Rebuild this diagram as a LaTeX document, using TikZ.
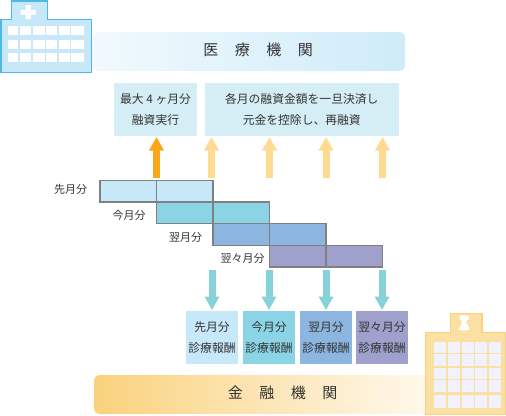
\documentclass[tikz,border=0pt]{standalone}
\usepackage{fontspec}
\setmainfont{Noto Sans CJK JP}
\usepackage{tikz}
\usetikzlibrary{arrows.meta,positioning,shadings}

\definecolor{skyc}{HTML}{C6E8F8}
\definecolor{tealc}{HTML}{8BD4E6}
\definecolor{bluec}{HTML}{8CB6E0}
\definecolor{violetc}{HTML}{A0A0CD}
\definecolor{palec}{HTML}{D5EDF4}
\definecolor{hospc}{HTML}{4FB8E8}
\definecolor{bankc}{HTML}{FAD27E}
\definecolor{bankfill}{HTML}{FBE0A4}
\definecolor{textc}{HTML}{333333}
\definecolor{orangec}{HTML}{FAA61A}
\definecolor{lightc}{HTML}{FEDB90}
\definecolor{downc}{HTML}{86D2D8}
\newcommand{\wsp}{\hspace{16.5pt}}

\begin{document}
\begin{tikzpicture}[x=1pt, y=-1pt,
  every node/.style={text=textc, font=\fontsize{11.8}{21}\selectfont, inner sep=0pt, outer sep=0pt},
  banner/.style={rounded corners=6pt, minimum height=39pt},
  title/.style={font=\fontsize{15}{18}\selectfont},
  note/.style={fill=palec, align=center, minimum height=53pt},
  cell/.style={draw=gray, line width=1.3pt, minimum width=56.5pt, minimum height=21.7pt},
  month/.style={font=\fontsize{11}{14}\selectfont},
  pay/.style={align=center, minimum width=52pt, minimum height=53pt},
  up/.style={-{Triangle[length=13.5pt, width=14pt]}, line width=7pt, shorten <=2pt, shorten >=1pt},
  down/.style={-{Triangle[length=13.5pt, width=14pt]}, line width=7pt, draw=downc, shorten <=3pt, shorten >=1pt}
]
\useasboundingbox (0,0) rectangle (506,415);

% banners
\node[banner, left color=skyc!25!white, right color=skyc!85!white, minimum width=313pt] (clinic) at (248.5,51.5) {};
\node[title] at (258,49.5) {医\wsp 療\wsp 機\wsp 関};
\node[banner, left color=bankc, right color=bankc!12!white, minimum width=345pt] (lender) at (266.5,394.5) {};
\node[title] at (282.5,393) {金\wsp 融\wsp 機\wsp 関};

% hospital
\draw[hospc, fill=skyc, line width=1.5pt] (0.8,72.5) -- (0.8,19.5) -- (11.5,19.5) -- (11.5,0.8) -- (47.5,0.8) -- (47.5,19.5) -- (91.3,19.5) -- (91.3,72.5) -- cycle;
\fill[white] (20.5,10) rectangle (36,14.5) (25.7,5) rectangle (30.8,19);
\foreach \y/\h in {26/9,40/8.5,53/8.5}
  \foreach \x/\w in {8/10,20/11,33/11.5,46/11,59/11,71/13}
    \fill[white] (\x,\y) rectangle ++(\w,\h);

% bank
\draw[bankc, fill=bankfill, line width=1.2pt] (425.5,414.5) -- (425.5,332.5) -- (450.5,332.5) -- (450.5,313.5) -- (482,313.5) -- (482,332.5) -- (505.5,332.5) -- (505.5,414.5) -- cycle;
\foreach \y/\h in {342/11,354/12,368/11,380/12,395/13}
  \foreach \x in {434,448,462,475,489}
    \fill[white!95!blue] (\x,\y) rectangle ++(11.5,\h);
\fill[white] (459.5,316) .. controls (462,315) and (466,315) .. (469,316) .. controls (470,318) and (468,320) .. (466.5,321) .. controls (466,322.5) and (466,324) .. (467.5,325) .. controls (469,326) and (470,328) .. (469,330) .. controls (466,330.5) and (462,330.5) .. (459,330) .. controls (458.5,328) and (460,326) .. (461,325) .. controls (462,324) and (462,322.5) .. (461.5,321) .. controls (460,320) and (459,318) .. (459.5,316) -- cycle;

% notes
\node[note, minimum width=83pt] (advance) at (155.5,109.5) {最大 4 ヶ月分\\融資実行};
\node[note, minimum width=194.5pt] (refund) at (301.75,109.5) {各月の融資金額を一旦決済し\\元金を控除し、再融資};

% months
\node[cell, fill=skyc] (m1a) at (128.25,191) {};
\node[cell, fill=skyc, right=0pt of m1a] (m1b) {};
\node[cell, fill=tealc, below right=0pt and 0pt of m1a.south east] (m2a) {};
\node[cell, fill=tealc, right=0pt of m2a] (m2b) {};
\node[cell, fill=bluec, below right=0pt and 0pt of m2a.south east] (m3a) {};
\node[cell, fill=bluec, right=0pt of m3a] (m3b) {};
\node[cell, fill=violetc, below right=0pt and 0pt of m3a.south east] (m4a) {};
\node[cell, fill=violetc, right=0pt of m4a] (m4b) {};
\node[month, left=13pt of m1a, yshift=1.5pt] (l1) {先月分};
\node[month, left=11pt of m2a, yshift=-3pt] (l2) {今月分};
\node[month, left=11pt of m3a, yshift=-3pt] (l3) {翌月分};
\node[month, left=5pt of m4a, yshift=-2pt] (l4) {翌々月分};

% fees
\node[pay, fill=skyc] (p1) at (212,337.5) {先月分\\診療報酬};
\node[pay, fill=tealc, right=5pt of p1] (p2) {今月分\\診療報酬};
\node[pay, fill=bluec, right=5pt of p2] (p3) {翌月分\\診療報酬};
\node[pay, fill=violetc, right=4pt of p3] (p4) {翌々月分\\診療報酬};

% arrows
\draw[up, draw=orangec] (m1a.north east) -- (m1a.north east |- advance.south);
\draw[up, draw=lightc, transform canvas={xshift=-1.5pt}] (m1b.north east) -- (m1b.north east |- refund.south);
\draw[up, draw=lightc] (m2b.north east |- m1b.north) -- (m2b.north east |- refund.south);
\draw[up, draw=lightc] (m3b.north east |- m1b.north) -- (m3b.north east |- refund.south);
\draw[up, draw=lightc] (m4b.north east |- m1b.north) -- (m4b.north east |- refund.south);
\draw[down] (p1.north |- m4a.south) -- (p1.north);
\draw[down] (p2.north |- m4a.south) -- (p2.north);
\draw[down] (p3.north |- m4a.south) -- (p3.north);
\draw[down] (p4.north |- m4a.south) -- (p4.north);
\end{tikzpicture}
\end{document}
